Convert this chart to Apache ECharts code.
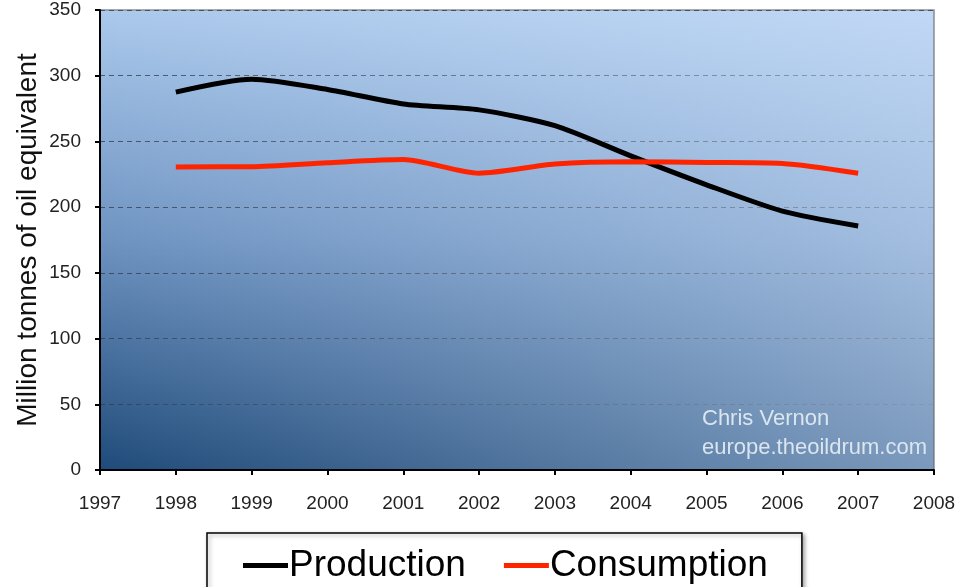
<!DOCTYPE html>
<html>
<head>
<meta charset="utf-8">
<script src="https://cdn.jsdelivr.net/npm/echarts@6/dist/echarts.min.js"></script>
<style>
  html, body { margin: 0; padding: 0; background: #fff; }
  #chart { width: 973px; height: 587px; }
</style>
</head>
<body>
<div id="chart"></div>
<script>
// Years on the horizontal axis
const years = [1998, 1999, 2000, 2001, 2002, 2003, 2004, 2005, 2006, 2007];
// Million tonnes of oil equivalent
const production = [287.5, 297.3, 289.5, 278.5, 274, 262, 239, 217, 197, 185.7];
const consumption = [230.6, 230.8, 233.8, 236.2, 225.8, 232.8, 234.6, 234, 233.2, 225.8];

const yearMin = 1997, yearMax = 2008;
const valueMax = 350, valueStep = 50;

const GRID = { left: 100, top: 10, right: 39, bottom: 117 };
const W = 973, H = 587;
const gridW = W - GRID.left - GRID.right;
const gridH = H - GRID.top - GRID.bottom;

const chart = echarts.init(document.getElementById('chart'), null, { renderer: 'canvas' });

const font = 'Liberation Sans, Arial, sans-serif';

chart.setOption({
  animation: false,
  grid: {
    left: GRID.left, top: GRID.top, right: GRID.right, bottom: GRID.bottom,
    show: true,
    borderColor: '#8a8f96',
    borderWidth: 1.5,
    backgroundColor: new echarts.graphic.LinearGradient(0, 0, 0, 1, [
      { offset: 0, color: '#abc9ec' },
      { offset: 0.5, color: '#6e93c1' },
      { offset: 1, color: '#1f4a79' }
    ])
  },
  graphic: [
    {
      // lightening towards the right side of the plot
      type: 'rect',
      z: 1,
      silent: true,
      shape: { x: GRID.left + 1, y: GRID.top + 1, width: gridW - 2, height: gridH - 2 },
      style: {
        fill: new echarts.graphic.LinearGradient(0, 0, 1, 0, [
          { offset: 0, color: 'rgba(215,232,255,0)' },
          { offset: 1, color: 'rgba(215,232,255,0.5)' }
        ])
      }
    },
    {
      type: 'text',
      z: 5,
      left: 702,
      top: 408,
      style: { text: 'Chris Vernon', fill: 'rgba(230,238,246,0.9)', font: '22px ' + font }
    },
    {
      type: 'text',
      z: 5,
      left: 702,
      top: 437,
      style: { text: 'europe.theoildrum.com', fill: 'rgba(230,238,246,0.9)', font: '22px ' + font }
    }
  ],
  legend: {
    left: 207,
    top: 533,
    padding: [14, 34, 14, 36],
    itemGap: 38,
    itemWidth: 45,
    itemHeight: 5,
    icon: 'rect',
    borderColor: '#000',
    borderWidth: 1.5,
    backgroundColor: '#fff',
    shadowColor: 'rgba(0,0,0,0.35)',
    shadowBlur: 4,
    shadowOffsetX: 2,
    shadowOffsetY: 2,
    textStyle: { fontFamily: font, fontSize: 37, color: '#000', padding: [0, 0, 0, -4] },
    data: ['Production', 'Consumption']
  },
  xAxis: {
    type: 'value',
    min: yearMin,
    max: yearMax,
    interval: 1,
    axisLine: { show: true, lineStyle: { color: '#000', width: 2 } },
    axisTick: { show: true, length: 5, lineStyle: { color: '#000', width: 2 } },
    axisLabel: {
      margin: 24,
      fontFamily: font,
      fontSize: 19,
      color: '#222',
      formatter: v => String(v)
    },
    splitLine: { show: false }
  },
  yAxis: {
    type: 'value',
    min: 0,
    max: valueMax,
    interval: valueStep,
    name: 'Million tonnes of oil equivalent',
    nameLocation: 'middle',
    nameGap: 58,
    nameMoveOverlap: false,
    nameTextStyle: { fontFamily: font, fontSize: 28, color: '#111' },
    axisLine: { show: true, lineStyle: { color: '#000', width: 2 } },
    axisTick: { show: true, length: 5, lineStyle: { color: '#000', width: 2 } },
    axisLabel: { margin: 19, fontFamily: font, fontSize: 19, color: '#222' },
    splitLine: {
      show: true,
      lineStyle: { color: '#333f4d', width: 1, type: [5, 4], opacity: 0.8 }
    }
  },
  series: [
    {
      name: 'Production',
      type: 'line',
      z: 3,
      smooth: 0.25,
      showSymbol: false,
      color: '#000',
      lineStyle: { color: '#000', width: 5 },
      data: years.map((y, i) => [y, production[i]])
    },
    {
      name: 'Consumption',
      type: 'line',
      z: 3,
      smooth: 0.25,
      showSymbol: false,
      color: '#ff2400',
      lineStyle: { color: '#ff2400', width: 5 },
      data: years.map((y, i) => [y, consumption[i]])
    }
  ]
});
</script>
</body>
</html>
